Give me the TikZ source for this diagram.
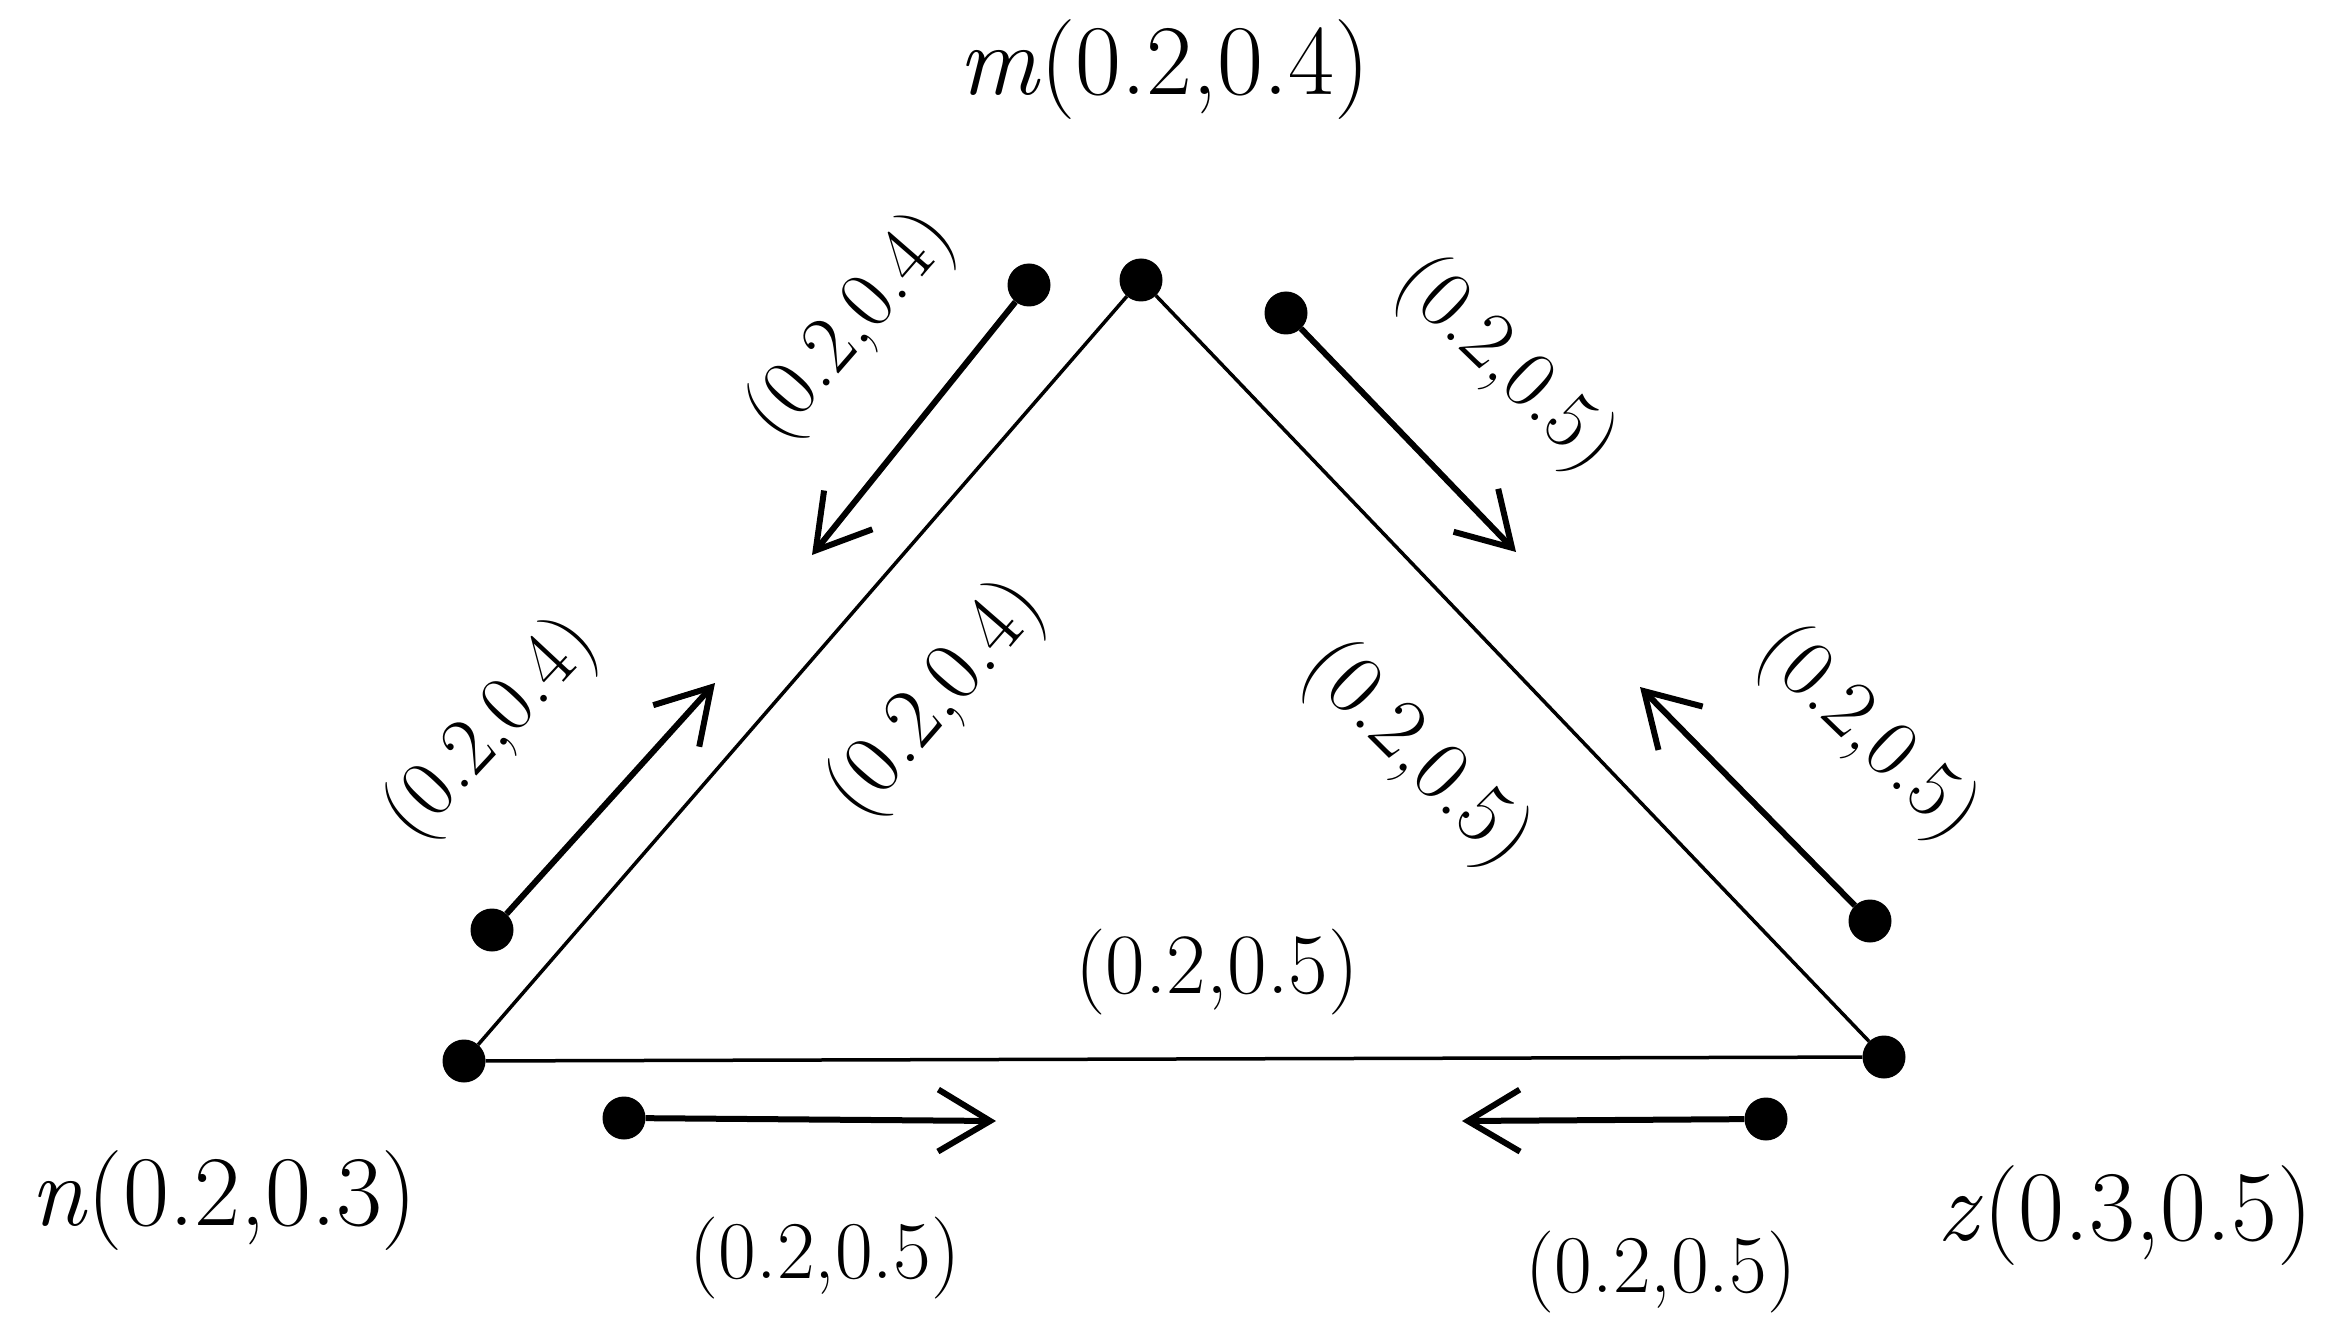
\documentclass[tikz,border=0pt]{standalone}
\usepackage{fontspec}
\usetikzlibrary{arrows.meta}
\begin{document}
\begin{tikzpicture}[x=1pt,y=-1pt,
  vdot/.style={circle,fill=black,inner sep=0pt,minimum size=43pt},
  side/.style={line width=3.5pt},
  flow/.style={line width=6pt,-{Straight Barb[length=52pt,width=62pt]}},
  lab/.style={inner sep=0pt,font=\fontsize{82}{86}\selectfont},
  biglab/.style={inner sep=0pt,font=\fontsize{86}{90}\selectfont},
  vlab/.style={inner sep=0pt,font=\fontsize{100}{104}\selectfont}]
\useasboundingbox[fill=white] (0,0) rectangle (2335,1329);
% vertices
\node[vdot] (m) at (1141,280) {};
\node[vdot] (n) at (464,1061) {};
\node[vdot] (z) at (1884,1057) {};
\draw[side] (m) -- (n);
\draw[side] (m) -- (z);
\draw[side] (n) -- (z);
% arrows
\node[vdot] (a1) at (1029,285) {};
\coordinate (t1) at (812,555);
\node[vdot] (a2) at (1286,313) {};
\coordinate (t2) at (1516,552);
\node[vdot] (a3) at (492,930) {};
\coordinate (t3) at (715,683);
\node[vdot] (a4) at (1870,921) {};
\coordinate (t4) at (1640,687);
\node[vdot] (a5) at (624,1118) {};
\coordinate (t5) at (996,1121);
\node[vdot] (a6) at (1766,1119) {};
\coordinate (t6) at (1462,1121);
\draw[flow] (a1) -- (t1);
\draw[flow] (a2) -- (t2);
\draw[flow] (a3) -- (t3);
\draw[flow] (a4) -- (t4);
\draw[flow] (a5) -- (t5);
\draw[flow] (a6) -- (t6);
% vertex labels
\node[vlab,anchor=base] (lm) at (1164,95) {\textit{m}(0.2,0.4)};
\node[vlab,anchor=base] (ln) at (224,1225) {\textit{n}(0.2,0.3)};
\node[vlab,anchor=base] (lz) at (2125,1240) {\textit{z}(0.3,0.5)};
% edge labels
\node[lab,rotate=49] (l1) at (852,327) {(0.2,0.4)};
\node[lab,rotate=-44] (l2) at (1505,365) {(0.2,0.5)};
\node[lab,rotate=47] (l3) at (492,730) {(0.2,0.4)};
\node[biglab,rotate=49] (l4) at (937,700) {(0.2,0.4)};
\node[biglab,rotate=-45] (l5) at (1416,755) {(0.2,0.5)};
\node[lab,rotate=-44] (l6) at (1867,734) {(0.2,0.5)};
\node[biglab,anchor=base] (l7) at (1217,993) {(0.2,0.5)};
\node[lab,anchor=base] (l8) at (825,1278) {(0.2,0.5)};
\node[lab,anchor=base] (l9) at (1661,1292) {(0.2,0.5)};
\end{tikzpicture}
\end{document}
